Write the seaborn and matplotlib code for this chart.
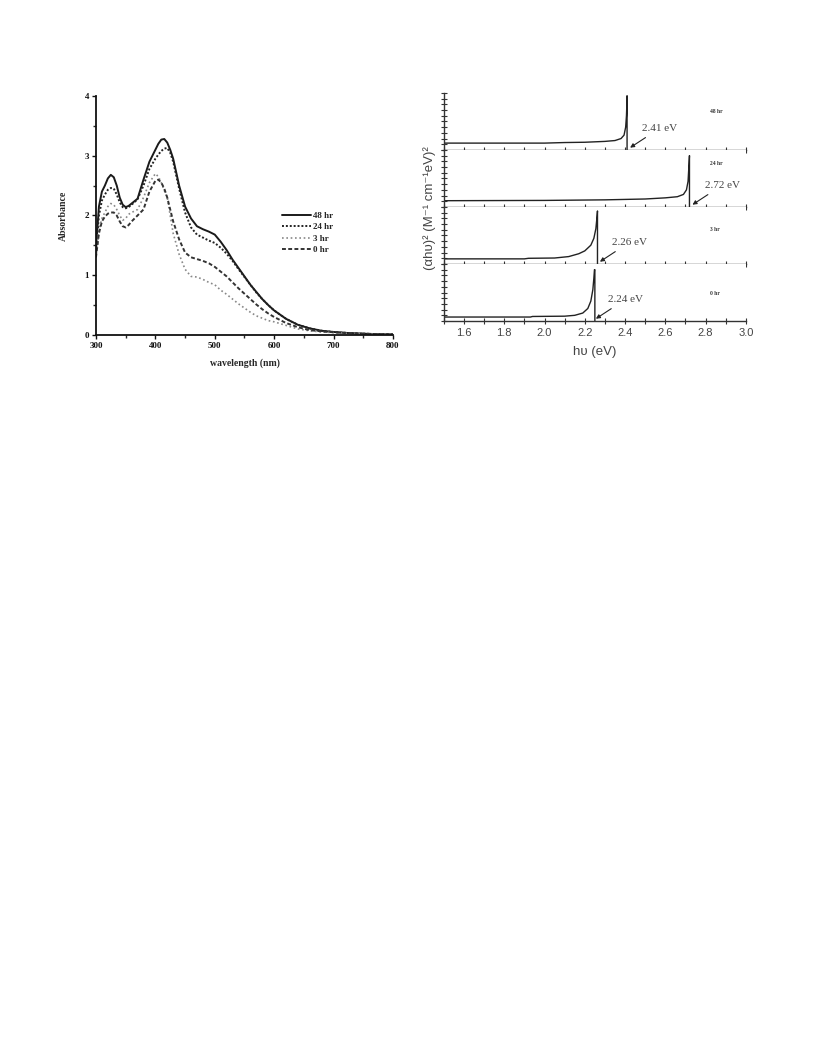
import numpy as np
import pandas as pd
import matplotlib
matplotlib.use('Agg')
import matplotlib.pyplot as plt
from matplotlib.ticker import MultipleLocator
import seaborn as sns

# Absorbance spectra (left panel)
wavelength = [300, 305, 310, 315, 320, 325, 330, 335, 340, 345, 350, 355, 360, 370, 380,
              390, 400, 405, 410, 415, 420, 425, 430, 440, 450, 460, 470, 480, 490, 500,
              510, 520, 530, 540, 550, 560, 570, 580, 590, 600, 620, 640, 660, 680, 700,
              720, 740, 760, 780, 800]
abs_48hr = [1.45, 2.15, 2.40, 2.50, 2.62, 2.68, 2.64, 2.50, 2.30, 2.18, 2.14, 2.16, 2.20, 2.28, 2.60,
            2.90, 3.10, 3.20, 3.27, 3.28, 3.22, 3.10, 2.95, 2.50, 2.15, 1.95, 1.82, 1.77, 1.73, 1.68,
            1.56, 1.42, 1.26, 1.12, 0.98, 0.84, 0.72, 0.60, 0.50, 0.41, 0.27, 0.17, 0.11, 0.07, 0.05,
            0.035, 0.025, 0.018, 0.012, 0.01]
abs_24hr = [1.40, 2.00, 2.25, 2.35, 2.43, 2.46, 2.45, 2.35, 2.22, 2.14, 2.12, 2.14, 2.18, 2.27, 2.50,
            2.78, 2.95, 3.02, 3.08, 3.12, 3.13, 3.05, 2.90, 2.45, 2.05, 1.80, 1.68, 1.63, 1.58, 1.54,
            1.46, 1.36, 1.24, 1.10, 0.97, 0.84, 0.71, 0.60, 0.50, 0.41, 0.27, 0.17, 0.11, 0.07, 0.05,
            0.035, 0.025, 0.018, 0.012, 0.01]
abs_3hr = [1.30, 1.75, 1.95, 2.05, 2.15, 2.20, 2.18, 2.10, 2.00, 1.92, 1.95, 2.02, 2.05, 2.10, 2.30,
           2.55, 2.70, 2.65, 2.55, 2.42, 2.30, 2.00, 1.70, 1.35, 1.10, 0.98, 0.97, 0.93, 0.88, 0.84,
           0.75, 0.68, 0.60, 0.52, 0.45, 0.38, 0.32, 0.28, 0.24, 0.22, 0.16, 0.10, 0.07, 0.05, 0.04,
           0.03, 0.02, 0.015, 0.01, 0.01]
abs_0hr = [1.30, 1.70, 1.90, 1.98, 2.03, 2.05, 2.05, 2.00, 1.90, 1.82, 1.80, 1.84, 1.90, 2.00, 2.10,
           2.40, 2.58, 2.60, 2.55, 2.45, 2.30, 2.10, 1.90, 1.60, 1.38, 1.30, 1.27, 1.24, 1.20, 1.14,
           1.06, 0.98, 0.88, 0.78, 0.69, 0.60, 0.51, 0.43, 0.36, 0.30, 0.20, 0.13, 0.08, 0.06, 0.045,
           0.035, 0.025, 0.018, 0.012, 0.01]
series_labels = ['48 hr', '24 hr', '3 hr', '0 hr']
wl_ticks = [300, 400, 500, 600, 700, 800]
abs_ticks = [0, 1, 2, 3, 4]

# Tauc plots (right panels), intensity in arbitrary units
ev_48hr = [1.5, 2.0, 2.1, 2.2, 2.3, 2.35, 2.38, 2.395, 2.403, 2.407, 2.409, 2.41, 2.41]
tauc_48hr = [0.12, 0.12, 0.13, 0.135, 0.15, 0.165, 0.20, 0.26, 0.40, 0.60, 0.80, 0.95, 0.0]
ev_24hr = [1.5, 2.0, 2.3, 2.5, 2.6, 2.66, 2.69, 2.705, 2.713, 2.717, 2.72, 2.72]
tauc_24hr = [0.11, 0.115, 0.125, 0.14, 0.16, 0.18, 0.22, 0.30, 0.45, 0.70, 0.90, 0.0]
ev_3hr = [1.5, 1.9, 1.92, 2.05, 2.12, 2.17, 2.2, 2.23, 2.245, 2.255, 2.26, 2.263, 2.263]
tauc_3hr = [0.09, 0.09, 0.10, 0.105, 0.13, 0.18, 0.23, 0.33, 0.45, 0.62, 0.80, 0.93, 0.0]
ev_0hr = [1.5, 1.93, 1.94, 2.1, 2.15, 2.19, 2.215, 2.23, 2.24, 2.245, 2.248, 2.25, 2.25]
tauc_0hr = [0.07, 0.07, 0.08, 0.085, 0.10, 0.14, 0.22, 0.35, 0.55, 0.75, 0.90, 0.90, 0.0]
gap_labels = ['2.41 eV', '2.72 eV', '2.26 eV', '2.24 eV']
gap_values = [2.41, 2.72, 2.26, 2.24]

sns.set_style('ticks')
plt.rcParams['font.family'] = ['Liberation Serif', 'DejaVu Serif']

fig = plt.figure(figsize=(8.16, 10.56), dpi=100)

# ---- left panel: absorbance ----
ax = fig.add_axes([0.1176, 0.6828, 0.364, 0.2263])
abs_df = pd.DataFrame({'wavelength': wavelength * 4,
                       'absorbance': abs_48hr + abs_24hr + abs_3hr + abs_0hr,
                       'time': np.repeat(series_labels, len(wavelength))})
styles = {'48 hr': dict(color='#1a1a1a', ls='-', lw=1.4),
          '24 hr': dict(color='#222222', ls=(0, (1, 1)), lw=1.4),
          '3 hr': dict(color='#888888', ls=(0, (1, 1.6)), lw=1.2),
          '0 hr': dict(color='#333333', ls=(0, (2, 1.2)), lw=1.4)}
for lab in series_labels:
    sub = abs_df[abs_df['time'] == lab]
    sns.lineplot(data=sub, x='wavelength', y='absorbance', ax=ax, label=lab,
                 color=styles[lab]['color'], linestyle=styles[lab]['ls'],
                 linewidth=styles[lab]['lw'])
ax.set_xlim(300, 800)
ax.set_ylim(0, 4)
ax.set_xticks(wl_ticks)
ax.set_xticklabels([str(t) for t in wl_ticks])
ax.set_yticks(abs_ticks)
ax.set_yticklabels([str(t) for t in abs_ticks])
ax.xaxis.set_minor_locator(MultipleLocator(50))
ax.yaxis.set_minor_locator(MultipleLocator(0.5))
ax.tick_params(which='major', direction='out', length=3, width=1, labelsize=6.5,
               pad=2, colors='#111111')
ax.tick_params(which='minor', direction='out', length=2, width=1)
for t in ax.get_xticklabels() + ax.get_yticklabels():
    t.set_fontweight('bold')
for s in ['top', 'right']:
    ax.spines[s].set_visible(False)
for s in ['left', 'bottom']:
    ax.spines[s].set_linewidth(1.3)
    ax.spines[s].set_color('#111111')
ax.set_xlabel('wavelength (nm)', fontsize=7, fontweight='bold', labelpad=6)
ax.set_ylabel('Absorbance', fontsize=7, fontweight='bold', labelpad=12)
leg = ax.legend(loc='upper left', bbox_to_anchor=(0.6, 0.55), frameon=False,
                handlelength=3.2, handletextpad=0.2, labelspacing=0.35,
                prop={'weight': 'bold', 'size': 6.5})

# ---- right panels: Tauc plots ----
tauc_ev = [ev_48hr, ev_24hr, ev_3hr, ev_0hr]
tauc_val = [tauc_48hr, tauc_24hr, tauc_3hr, tauc_0hr]
bottoms = [0.858, 0.804, 0.750, 0.696]
label_y = [0.68, 0.77, 0.61, 0.49]
sans = ['Liberation Sans', 'DejaVu Sans']
for i in range(4):
    a = fig.add_axes([0.544, bottoms[i], 0.370, 0.054])
    sns.lineplot(x=tauc_ev[i], y=tauc_val[i], ax=a, color='#222222', linewidth=1.0,
                 sort=False, estimator=None)
    a.set_xlim(1.5, 3.0)
    a.set_ylim(0, 1)
    a.xaxis.set_major_locator(MultipleLocator(0.2))
    a.xaxis.set_minor_locator(MultipleLocator(0.1))
    a.yaxis.set_major_locator(MultipleLocator(0.1))
    a.set_yticklabels([])
    a.tick_params(axis='y', direction='inout', length=4, width=0.8, colors='#333333')
    a.tick_params(axis='x', which='both', direction='inout', length=4, width=0.8,
                  colors='#333333')
    for s in ['top', 'right']:
        a.spines[s].set_visible(False)
    for s in ['left', 'bottom']:
        a.spines[s].set_linewidth(1.0)
        a.spines[s].set_color('#333333')
    a.set_xlabel('')
    a.set_ylabel('')
    if i < 3:
        a.set_xticklabels([])
    else:
        a.tick_params(axis='x', labelsize=8, labelcolor='#444444', pad=3)
        for t in a.get_xticklabels():
            t.set_family(sans)
        a.set_xlabel('h\u03c5 (eV)', fontsize=9.5, color='#444444', family=sans, labelpad=6)
    # band gap annotation with arrow
    g = gap_values[i]
    a.annotate(gap_labels[i], xy=(g + 0.015, 0.04), xytext=(g + 0.075, 0.38),
               fontsize=8, color='#444444', va='center', ha='left',
               arrowprops=dict(arrowstyle='-|>', color='#222222', lw=0.8,
                               mutation_scale=6, shrinkA=2, shrinkB=0))
    a.text(2.82, label_y[i], series_labels[i], fontsize=4, fontweight='bold',
           color='#333333', va='center', ha='left')

fig.text(0.527, 0.803, '(\u03b1h\u03c5)\u00b2 (M\u207b\u00b9 cm\u207b\u00b9eV)\u00b2', rotation=90,
         fontsize=9.5, color='#444444', family=sans, ha='center', va='center')

plt.savefig('out.png', dpi=100)
plt.close()
